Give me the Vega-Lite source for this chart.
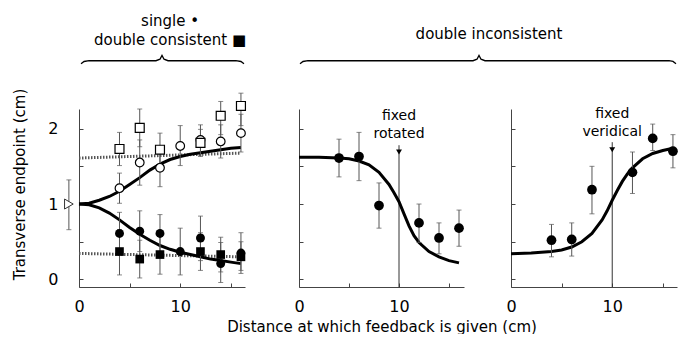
{
  "$schema": "https://vega.github.io/schema/vega-lite/v6.json",
  "padding": {"left": 11, "top": 13, "right": 0, "bottom": 0},
  "background": "white",
  "bounds": "flush",
  "spacing": 54,
  "config": {
    "view": {"stroke": null},
    "font": "DejaVu Sans",
    "axis": {"grid": false, "domainColor": "#444", "tickColor": "#444", "tickSize": -4, "domainWidth": 1, "tickWidth": 1,
      "labelFont": "DejaVu Sans", "labelFontSize": 16, "labelColor": "#000", "labelFlush": false,
      "titleFont": "DejaVu Sans", "titleFontSize": 15, "titleFontWeight": "normal", "titleColor": "#000"}
  },
  "datasets": {
    "lpts": [
      {"s": "os", "x": 4, "y": 1.73, "lo": 1.51, "hi": 1.95},
      {"s": "os", "x": 6, "y": 2.01, "lo": 1.76, "hi": 2.26},
      {"s": "os", "x": 8, "y": 1.72, "lo": 1.50, "hi": 1.94},
      {"s": "os", "x": 12, "y": 1.81, "lo": 1.63, "hi": 1.99},
      {"s": "os", "x": 14, "y": 2.17, "lo": 1.92, "hi": 2.36},
      {"s": "os", "x": 16, "y": 2.30, "lo": 2.04, "hi": 2.47},
      {"s": "oc", "x": 4, "y": 1.21, "lo": 1.01, "hi": 1.41},
      {"s": "oc", "x": 6, "y": 1.55, "lo": 1.25, "hi": 1.85},
      {"s": "oc", "x": 8, "y": 1.48, "lo": 1.23, "hi": 1.73},
      {"s": "oc", "x": 10, "y": 1.77, "lo": 1.51, "hi": 2.04},
      {"s": "oc", "x": 12, "y": 1.85, "lo": 1.65, "hi": 2.05},
      {"s": "oc", "x": 14, "y": 1.83, "lo": 1.61, "hi": 2.05},
      {"s": "oc", "x": 16, "y": 1.94, "lo": 1.69, "hi": 2.19},
      {"s": "fc", "x": 4, "y": 0.61, "lo": 0.33, "hi": 0.89},
      {"s": "fc", "x": 6, "y": 0.64, "lo": 0.37, "hi": 0.91},
      {"s": "fc", "x": 8, "y": 0.61, "lo": 0.36, "hi": 0.86},
      {"s": "fc", "x": 10, "y": 0.37, "lo": 0.06, "hi": 0.68},
      {"s": "fc", "x": 12, "y": 0.55, "lo": 0.25, "hi": 0.84},
      {"s": "fc", "x": 14, "y": 0.21, "lo": -0.04, "hi": 0.49},
      {"s": "fc", "x": 16, "y": 0.35, "lo": 0.08, "hi": 0.62},
      {"s": "fs", "x": 4, "y": 0.37, "lo": 0.06, "hi": 0.66},
      {"s": "fs", "x": 6, "y": 0.27, "lo": 0.02, "hi": 0.52},
      {"s": "fs", "x": 8, "y": 0.33, "lo": 0.07, "hi": 0.60},
      {"s": "fs", "x": 12, "y": 0.37, "lo": 0.12, "hi": 0.62},
      {"s": "fs", "x": 14, "y": 0.33, "lo": 0.10, "hi": 0.56},
      {"s": "fs", "x": 16, "y": 0.30, "lo": 0.12, "hi": 0.50},
      {"s": "tri", "x": -1, "y": 1.0, "lo": 0.66, "hi": 1.32}
    ],
    "lcurve": [
      {"c": "up", "x": 0, "y": 1.00}, {"c": "up", "x": 1, "y": 1.01}, {"c": "up", "x": 2, "y": 1.05}, {"c": "up", "x": 3, "y": 1.10},
      {"c": "up", "x": 4, "y": 1.17}, {"c": "up", "x": 5, "y": 1.26}, {"c": "up", "x": 6, "y": 1.35}, {"c": "up", "x": 7, "y": 1.45},
      {"c": "up", "x": 8, "y": 1.53}, {"c": "up", "x": 9, "y": 1.59}, {"c": "up", "x": 10, "y": 1.63}, {"c": "up", "x": 11, "y": 1.66},
      {"c": "up", "x": 12, "y": 1.68}, {"c": "up", "x": 13, "y": 1.70}, {"c": "up", "x": 14, "y": 1.72}, {"c": "up", "x": 15, "y": 1.74},
      {"c": "up", "x": 16, "y": 1.75},
      {"c": "down", "x": 0, "y": 1.00}, {"c": "down", "x": 1, "y": 0.99}, {"c": "down", "x": 2, "y": 0.95}, {"c": "down", "x": 3, "y": 0.88},
      {"c": "down", "x": 4, "y": 0.79}, {"c": "down", "x": 5, "y": 0.69}, {"c": "down", "x": 6, "y": 0.60}, {"c": "down", "x": 7, "y": 0.52},
      {"c": "down", "x": 8, "y": 0.45}, {"c": "down", "x": 9, "y": 0.40}, {"c": "down", "x": 10, "y": 0.36}, {"c": "down", "x": 11, "y": 0.33},
      {"c": "down", "x": 12, "y": 0.30}, {"c": "down", "x": 13, "y": 0.27}, {"c": "down", "x": 14, "y": 0.25}, {"c": "down", "x": 15, "y": 0.23},
      {"c": "down", "x": 16, "y": 0.21}
    ],
    "ldot": [
      {"c": "up", "x": 0, "y": 1.61}, {"c": "up", "x": 16, "y": 1.675},
      {"c": "down", "x": 0, "y": 0.345}, {"c": "down", "x": 16, "y": 0.30}
    ],
    "ltop": [
      {"x": 9, "y": 3.43, "t": "single •"},
      {"x": 9, "y": 3.17, "t": "double consistent ■"}
    ],
    "lbrace": [
      {"x": 0.2, "y": 2.86}, {"x": 0.5, "y": 2.89}, {"x": 1.0, "y": 2.90}, {"x": 7.6, "y": 2.90}, {"x": 8.0, "y": 2.92},
      {"x": 8.2, "y": 2.97}, {"x": 8.4, "y": 2.92}, {"x": 8.8, "y": 2.90}, {"x": 15.5, "y": 2.90}, {"x": 16.0, "y": 2.89}, {"x": 16.3, "y": 2.86}
    ],
    "mpts": [
      {"x": 4, "y": 1.61, "lo": 1.36, "hi": 1.86},
      {"x": 6, "y": 1.63, "lo": 1.31, "hi": 1.95},
      {"x": 8, "y": 0.98, "lo": 0.68, "hi": 1.28},
      {"x": 12, "y": 0.75, "lo": 0.49, "hi": 1.00},
      {"x": 14, "y": 0.55, "lo": 0.34, "hi": 0.75},
      {"x": 16, "y": 0.68, "lo": 0.44, "hi": 0.92}
    ],
    "mcurve": [
      {"x": 0, "y": 1.62}, {"x": 2, "y": 1.62}, {"x": 4, "y": 1.61}, {"x": 5, "y": 1.60}, {"x": 6, "y": 1.57}, {"x": 7, "y": 1.52},
      {"x": 8, "y": 1.42}, {"x": 9, "y": 1.26}, {"x": 9.5, "y": 1.15}, {"x": 10, "y": 1.03}, {"x": 10.5, "y": 0.87}, {"x": 11, "y": 0.71},
      {"x": 11.5, "y": 0.58}, {"x": 12, "y": 0.49}, {"x": 13, "y": 0.37}, {"x": 14, "y": 0.30}, {"x": 15, "y": 0.25}, {"x": 16, "y": 0.22}
    ],
    "mbrace": [
      {"x": 0.1, "y": 2.86}, {"x": 0.4, "y": 2.89}, {"x": 0.9, "y": 2.90}, {"x": 17.4, "y": 2.90}, {"x": 17.8, "y": 2.92},
      {"x": 18.0, "y": 2.97}, {"x": 18.2, "y": 2.92}, {"x": 18.6, "y": 2.90}, {"x": 37.0, "y": 2.90}, {"x": 37.4, "y": 2.89}, {"x": 37.7, "y": 2.86}
    ],
    "mtop": [{"x": 19, "y": 3.26, "t": "double inconsistent"}],
    "mlab": [{"x": 10, "y": 2.17, "t": "fixed"}, {"x": 10, "y": 1.93, "t": "rotated"}],
    "mvline": [{"x": 10, "y": -0.1, "y2": 1.78}],
    "marrow": [{"x": 10, "y": 1.69}],
    "rpts": [
      {"x": 4, "y": 0.52, "lo": 0.30, "hi": 0.73},
      {"x": 6, "y": 0.53, "lo": 0.31, "hi": 0.75},
      {"x": 8, "y": 1.19, "lo": 0.87, "hi": 1.50},
      {"x": 12, "y": 1.42, "lo": 1.14, "hi": 1.69},
      {"x": 14, "y": 1.87, "lo": 1.71, "hi": 2.06},
      {"x": 16, "y": 1.70, "lo": 1.48, "hi": 1.92}
    ],
    "rcurve": [
      {"x": 0, "y": 0.34}, {"x": 2, "y": 0.35}, {"x": 4, "y": 0.37}, {"x": 5, "y": 0.39}, {"x": 6, "y": 0.43}, {"x": 7, "y": 0.50},
      {"x": 8, "y": 0.61}, {"x": 9, "y": 0.79}, {"x": 9.5, "y": 0.91}, {"x": 10, "y": 1.05}, {"x": 10.5, "y": 1.18}, {"x": 11, "y": 1.30},
      {"x": 11.5, "y": 1.40}, {"x": 12, "y": 1.48}, {"x": 13, "y": 1.60}, {"x": 14, "y": 1.67}, {"x": 15, "y": 1.71}, {"x": 16, "y": 1.74}
    ],
    "rlab": [{"x": 10, "y": 2.2, "t": "fixed"}, {"x": 10, "y": 1.95, "t": "veridical"}],
    "rvline": [{"x": 10, "y": -0.1, "y2": 1.82}],
    "rarrow": [{"x": 10, "y": 1.72}]
  },
  "hconcat": [
    {
      "width": 166, "height": 178,
      "encoding": {
        "x": {"field": "x", "type": "quantitative", "scale": {"domain": [0, 16.4], "nice": false, "zero": false},
          "axis": {"values": [0, 5, 10, 15], "labelExpr": "datum.value % 10 === 0 ? datum.label : ''", "title": null, "labelPadding": 15}},
        "y": {"field": "y", "type": "quantitative", "scale": {"domain": [-0.1, 2.26], "nice": false, "zero": false},
          "axis": {"values": [0, 0.5, 1, 1.5, 2], "labelExpr": "datum.value % 1 === 0 ? format(datum.value, 'd') : ''", "title": "Transverse endpoint (cm)",
            "titleX": -60, "titleY": 75, "titleAngle": -90, "titleAlign": "center", "titleBaseline": "middle", "labelPadding": 25}}
      },
      "layer": [
        {"data": {"name": "ldot"}, "mark": {"type": "line", "color": "#555", "strokeWidth": 3, "strokeDash": [1.5, 1.5]}, "encoding": {"detail": {"field": "c"}}},
        {"data": {"name": "lcurve"}, "mark": {"type": "line", "color": "#000", "strokeWidth": 3}, "encoding": {"detail": {"field": "c"}}},
        {"data": {"name": "lpts"}, "mark": {"type": "rule", "color": "#555", "strokeWidth": 1},
          "encoding": {"y": {"field": "lo", "type": "quantitative"}, "y2": {"field": "hi"}}},
        {"data": {"name": "lpts"}, "mark": {"type": "tick", "orient": "horizontal", "color": "#555", "size": 5, "thickness": 1},
          "encoding": {"y": {"field": "lo", "type": "quantitative"}}},
        {"data": {"name": "lpts"}, "mark": {"type": "tick", "orient": "horizontal", "color": "#555", "size": 5, "thickness": 1},
          "encoding": {"y": {"field": "hi", "type": "quantitative"}}},
        {"data": {"name": "lpts"}, "transform": [{"filter": "datum.s === 'oc'"}],
          "mark": {"type": "point", "shape": "circle", "filled": true, "fill": "white", "stroke": "black", "strokeWidth": 1.2, "size": 75, "opacity": 1}},
        {"data": {"name": "lpts"}, "transform": [{"filter": "datum.s === 'os'"}],
          "mark": {"type": "point", "shape": "square", "filled": true, "fill": "white", "stroke": "black", "strokeWidth": 1.2, "size": 80, "opacity": 1}},
        {"data": {"name": "lpts"}, "transform": [{"filter": "datum.s === 'fc'"}],
          "mark": {"type": "point", "shape": "circle", "filled": true, "color": "black", "size": 80, "opacity": 1}},
        {"data": {"name": "lpts"}, "transform": [{"filter": "datum.s === 'fs'"}],
          "mark": {"type": "point", "shape": "square", "filled": true, "color": "black", "size": 75, "opacity": 1}},
        {"data": {"name": "lpts"}, "transform": [{"filter": "datum.s === 'tri'"}],
          "mark": {"type": "point", "shape": "triangle-right", "filled": true, "fill": "white", "stroke": "#333", "strokeWidth": 1, "size": 100, "opacity": 1}},
        {"data": {"name": "ltop"}, "mark": {"type": "text", "fontSize": 15, "align": "center", "baseline": "middle", "color": "black"},
          "encoding": {"text": {"field": "t"}}},
        {"data": {"name": "lbrace"}, "mark": {"type": "line", "color": "black", "strokeWidth": 1.3}}
      ]
    },
    {
      "bounds": "flush",
      "spacing": 47,
      "hconcat": [
        {
          "width": 165, "height": 178,
          "encoding": {
            "x": {"field": "x", "type": "quantitative", "scale": {"domain": [0, 16.5], "nice": false, "zero": false},
              "axis": {"values": [0, 5, 10, 15], "labelExpr": "datum.value % 10 === 0 ? datum.label : ''", "title": "Distance at which feedback is given (cm)", "labelPadding": 15, "titlePadding": 5}},
            "y": {"field": "y", "type": "quantitative", "scale": {"domain": [-0.1, 2.26], "nice": false, "zero": false},
              "axis": {"values": [0, 0.5, 1, 1.5, 2], "labels": false, "title": null}}
          },
          "layer": [
            {"data": {"name": "mvline"}, "mark": {"type": "rule", "color": "#333", "strokeWidth": 1},
              "encoding": {"y2": {"field": "y2"}}},
            {"data": {"name": "marrow"}, "mark": {"type": "point", "shape": "triangle-down", "filled": true, "color": "black", "size": 35, "opacity": 1}},
            {"data": {"name": "mcurve"}, "mark": {"type": "line", "color": "#000", "strokeWidth": 3}},
            {"data": {"name": "mpts"}, "mark": {"type": "rule", "color": "#555", "strokeWidth": 1},
              "encoding": {"y": {"field": "lo", "type": "quantitative"}, "y2": {"field": "hi"}}},
            {"data": {"name": "mpts"}, "mark": {"type": "tick", "orient": "horizontal", "color": "#555", "size": 5, "thickness": 1},
              "encoding": {"y": {"field": "lo", "type": "quantitative"}}},
            {"data": {"name": "mpts"}, "mark": {"type": "tick", "orient": "horizontal", "color": "#555", "size": 5, "thickness": 1},
              "encoding": {"y": {"field": "hi", "type": "quantitative"}}},
            {"data": {"name": "mpts"}, "mark": {"type": "point", "shape": "circle", "filled": true, "color": "black", "size": 95, "opacity": 1}},
            {"data": {"name": "mlab"}, "mark": {"type": "text", "fontSize": 14, "align": "center", "baseline": "middle", "color": "black"},
              "encoding": {"text": {"field": "t"}}},
            {"data": {"name": "mtop"}, "mark": {"type": "text", "fontSize": 15, "align": "center", "baseline": "middle", "color": "black"},
              "encoding": {"text": {"field": "t"}}},
            {"data": {"name": "mbrace"}, "mark": {"type": "line", "color": "black", "strokeWidth": 1.3}}
          ]
        },
        {
          "width": 166, "height": 178,
          "encoding": {
            "x": {"field": "x", "type": "quantitative", "scale": {"domain": [0, 16.4], "nice": false, "zero": false},
              "axis": {"values": [0, 5, 10, 15], "labelExpr": "datum.value % 10 === 0 ? datum.label : ''", "title": null, "labelPadding": 15}},
            "y": {"field": "y", "type": "quantitative", "scale": {"domain": [-0.1, 2.26], "nice": false, "zero": false},
              "axis": {"values": [0, 0.5, 1, 1.5, 2], "labels": false, "title": null}}
          },
          "layer": [
            {"data": {"name": "rvline"}, "mark": {"type": "rule", "color": "#333", "strokeWidth": 1},
              "encoding": {"y2": {"field": "y2"}}},
            {"data": {"name": "rarrow"}, "mark": {"type": "point", "shape": "triangle-down", "filled": true, "color": "black", "size": 35, "opacity": 1}},
            {"data": {"name": "rcurve"}, "mark": {"type": "line", "color": "#000", "strokeWidth": 3}},
            {"data": {"name": "rpts"}, "mark": {"type": "rule", "color": "#555", "strokeWidth": 1},
              "encoding": {"y": {"field": "lo", "type": "quantitative"}, "y2": {"field": "hi"}}},
            {"data": {"name": "rpts"}, "mark": {"type": "tick", "orient": "horizontal", "color": "#555", "size": 5, "thickness": 1},
              "encoding": {"y": {"field": "lo", "type": "quantitative"}}},
            {"data": {"name": "rpts"}, "mark": {"type": "tick", "orient": "horizontal", "color": "#555", "size": 5, "thickness": 1},
              "encoding": {"y": {"field": "hi", "type": "quantitative"}}},
            {"data": {"name": "rpts"}, "mark": {"type": "point", "shape": "circle", "filled": true, "color": "black", "size": 95, "opacity": 1}},
            {"data": {"name": "rlab"}, "mark": {"type": "text", "fontSize": 14, "align": "center", "baseline": "middle", "color": "black"},
              "encoding": {"text": {"field": "t"}}}
          ]
        }
      ]
    }
  ]
}
